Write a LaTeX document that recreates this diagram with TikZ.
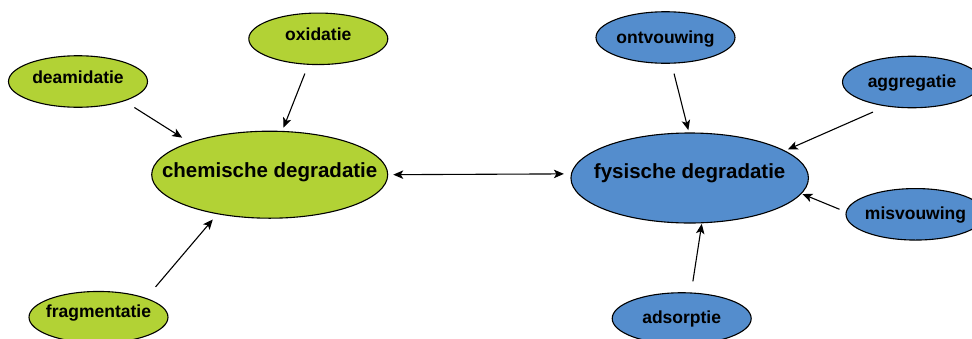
\documentclass[tikz,border=0pt]{standalone}
\usepackage{fontspec}
\setmainfont{Liberation Sans}
\usetikzlibrary{arrows.meta,shapes.geometric}
\definecolor{cgreen}{RGB}{178,210,53}
\definecolor{cblue}{RGB}{84,141,205}
\begin{document}
\begin{tikzpicture}[x=1pt,y=-1pt,
 base/.style={ellipse, draw=black, line width=1.1pt, inner sep=0pt},
 gsm/.style={base, fill=cgreen, minimum width=139pt, minimum height=51.5pt},
 bsm/.style={base, fill=cblue, minimum width=139pt, minimum height=51.5pt},
 gbig/.style={base, fill=cgreen, minimum width=236pt, minimum height=87pt},
 bbig/.style={base, fill=cblue, minimum width=237.5pt, minimum height=90pt},
 sl/.style={font=\fontsize{17.5}{20}\selectfont\bfseries, inner sep=0pt, text height=0pt, text depth=0pt},
 bl/.style={font=\fontsize{20.5}{24}\selectfont\bfseries, inner sep=0pt, text height=0pt, text depth=0pt},
 arr/.style={line width=1.1pt, -{Stealth[length=10pt,width=8.5pt,inset=2.5pt]}},
 darr/.style={line width=1.1pt, {Stealth[length=10pt,width=8.5pt,inset=2.5pt]}-{Stealth[length=10pt,width=8.5pt,inset=2.5pt]}},
]
\useasboundingbox (0,0) rectangle (972,338);
\node[gsm, label={[sl,yshift=-1.5pt]center:oxidatie}] (oxi) at (318.3,38.8) {};
\node[gsm, label={[sl,yshift=-2.2pt]center:deamidatie}] (deam) at (78,81.5) {};
\node[gsm, label={[sl,yshift=-0.3pt]center:fragmentatie}] (frag) at (98.5,317.2) {};
\node[gbig, label={[bl,yshift=-2.6pt]center:chemische degradatie}] (chem) at (269.7,174.7) {};
\node[bbig, label={[bl,yshift=-0.7pt]center:fysische degradatie}] (fys) at (689.7,178) {};
\node[bsm, label={[sl,yshift=-5.5pt]center:ontvouwing}] (ontv) at (665.5,37.5) {};
\node[bsm, label={[sl,yshift=-5pt]center:aggregatie}] (aggr) at (912,82) {};
\node[bsm, label={[sl,yshift=-5pt]center:misvouwing}] (misv) at (915.5,214.3) {};
\node[bsm, label={[sl,yshift=-5pt]center:adsorptie}] (adso) at (681.7,318.5) {};
\draw[arr, shorten <=9.4pt, shorten >=3.4pt] (oxi.249.1) -- (chem.74.06);
\draw[arr, shorten <=11.8pt, shorten >=8.6pt] (deam.337.4) -- (chem.158.6);
\draw[arr, shorten <=14.5pt, shorten >=6.9pt] (frag.22.7) -- (chem.217);
\draw[arr, shorten <=10.2pt, shorten >=2.4pt] (ontv.283.8) -- (fys.91.1);
\draw[arr, shorten <=14.1pt, shorten >=3pt] (aggr.223.2) -- (fys.16.56);
\draw[arr, shorten <=6.8pt, shorten >=0.8pt] (misv.178.9) -- (fys.352.95);
\draw[arr, shorten <=11.2pt, shorten >=0.55pt] (adso.70.16) -- (fys.285.1);
\draw[darr, shorten <=5pt, shorten >=7pt] (chem.east) -- (fys.178.55);
\end{tikzpicture}
\end{document}
